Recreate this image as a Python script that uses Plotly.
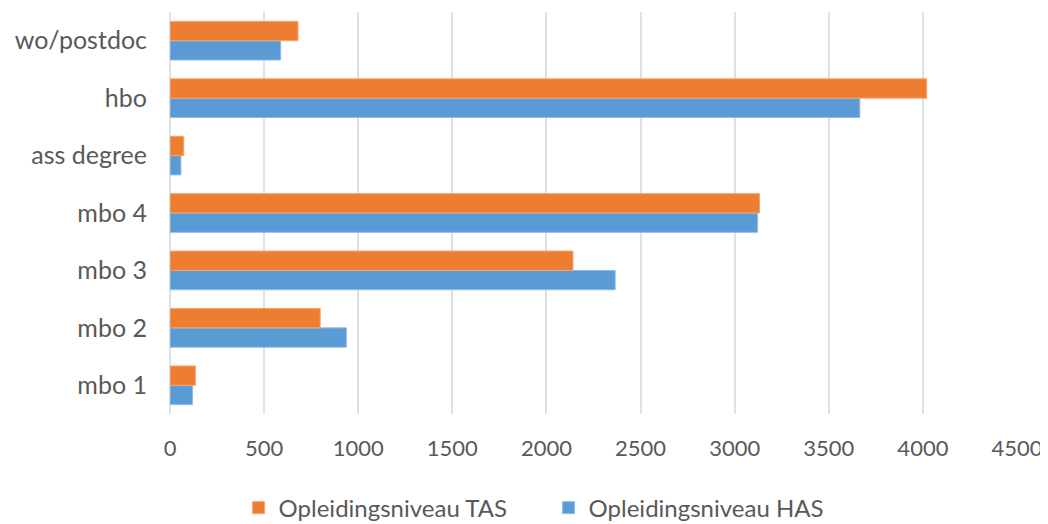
import plotly.graph_objects as go

categories = ["mbo 1", "mbo 2", "mbo 3", "mbo 4", "ass degree", "hbo", "wo/postdoc"]
has_values = [120, 937, 2365, 3122, 58, 3665, 588]
tas_values = [135, 798, 2141, 3132, 73, 4020, 680]
x_ticks = [0, 500, 1000, 1500, 2000, 2500, 3000, 3500, 4000, 4500]

FONT = "Lato"
TEXT = "#595959"

fig = go.Figure()
fig.add_trace(go.Bar(
    y=categories, x=has_values, orientation="h", name="Opleidingsniveau HAS",
    marker=dict(color="#5B9BD5", line=dict(color="#8DBDE8", width=1)),
))
fig.add_trace(go.Bar(
    y=categories, x=tas_values, orientation="h", name="Opleidingsniveau TAS",
    marker=dict(color="#ED7D31", line=dict(color="#F5A46E", width=1)),
))

fig.update_layout(
    width=1040, height=516,
    margin=dict(l=162, r=31, t=4, b=110, autoexpand=False),
    paper_bgcolor="white", plot_bgcolor="white",
    barmode="group", bargap=0.327, bargroupgap=0,
    font=dict(family=FONT, size=24, color=TEXT),
    showlegend=True,
    legend=dict(orientation="h", traceorder="reversed", x=0.447, xanchor="center",
                y=-0.234, yanchor="middle", font=dict(size=24, color=TEXT),
                itemwidth=30, entrywidth=265, bgcolor="rgba(0,0,0,0)"),
)
fig.update_xaxes(
    range=[0, 4500], tickvals=x_ticks, ticktext=[str(v) for v in x_ticks],
    showgrid=True, gridcolor="#DDE2EA", gridwidth=2,
    zeroline=True, zerolinecolor="#DDE2EA", zerolinewidth=2,
    showline=False, ticks="", ticklabelstandoff=19, automargin=False,
    tickfont=dict(family=FONT, size=22, color=TEXT),
)
fig.update_yaxes(
    showgrid=False, zeroline=False, showline=False, ticks="", automargin=False,
    ticklabelstandoff=22, tickfont=dict(family=FONT, size=25, color=TEXT),
)

fig.write_html("out.html")
